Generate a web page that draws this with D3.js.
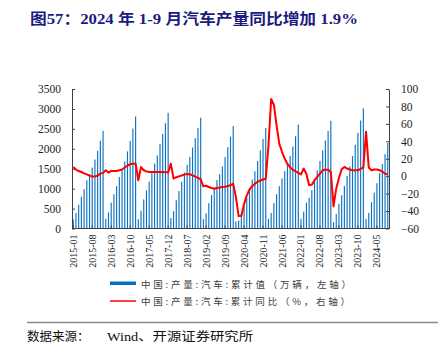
<!DOCTYPE html>
<html><head><meta charset="utf-8">
<script src="https://cdn.jsdelivr.net/npm/d3@7/dist/d3.min.js"></script>
<style>body{margin:0;background:#fff}svg{display:block}</style>
</head><body>
<svg id="c" width="447" height="360"></svg>
<script>
// ---- data (cumulative auto production, 万辆; cumulative YoY %) ----
const years = [2015,2016,2017,2018,2019,2020,2021,2022,2023,2024];
const prod2015 = [227, 388, 597, 796, 988, 1210, 1361, 1528, 1731, 1951, 2203, 2450];
const prod2016 = [243, 404, 649, 858, 1066, 1289, 1474, 1681, 1935, 2196, 2507, 2812];
const prod2017 = [231, 445, 729, 958, 1174, 1424, 1626, 1835, 2115, 2372, 2642, 2902];
const prod2018 = [264, 433, 709, 942, 1170, 1406, 1595, 1795, 2031, 2266, 2518, 2781];
const prod2019 = [233, 376, 635, 839, 1030, 1213, 1363, 1553, 1791, 2038, 2301, 2572];
const prod2020 = [177, 204, 347, 557, 776, 1011, 1230, 1436, 1693, 1961, 2247, 2523];
const prod2021 = [239, 388, 635, 858, 1063, 1257, 1442, 1615, 1824, 2057, 2314, 2608];
const prod2022 = [242, 423, 648, 769, 962, 1212, 1457, 1696, 1963, 2210, 2448, 2702];
const prod2023 = [159, 362, 621, 834, 1067, 1318, 1559, 1815, 2100, 2401, 2711, 3016];
const prod2024 = [241, 392, 660, 899, 1136, 1389, 1617, 1866, 2147];

const yoy2015 = [10.6, 7.6, 5.9, 4.8, 3.3, 2.1, 0.6, -0.4, -0.4, 0.6, 2.9, 3.8];
const yoy2016 = [6.8, 4.1, 6.0, 6.0, 6.0, 6.8, 7.6, 9.9, 12.2, 13.7, 14.4, 14.4];
const yoy2017 = [-4.7, 10.5, 6.8, 5.5, 4.8, 4.8, 4.8, 4.8, 4.8, 4.8, 4.6, 4.4];
const yoy2018 = [14.4, -2.8, -1.2, -0.2, 0.8, 1.8, 2.5, 2.2, 1.0, -0.5, -2.0, -3.5];
const yoy2019 = [-11.7, -11.0, -12.4, -13.6, -14.4, -13.6, -13.0, -12.4, -12.0, -11.3, -10.5, -8.6];
const yoy2020 = [-24.0, -45.8, -45.3, -32.0, -22.0, -15.5, -11.5, -8.6, -6.5, -4.9, -3.8, -3.0];
const yoy2021 = [35.0, 88.5, 82.0, 58.0, 37.0, 28.0, 20.0, 14.0, 10.0, 7.5, 5.5, 3.8];
const yoy2022 = [2.0, 8.8, 2.5, -10.5, -9.7, -4.6, -0.9, 3.0, 6.8, 7.6, 7.2, 4.8];
const yoy2023 = [-34.7, -14.0, -2.0, 8.0, 10.6, 8.8, 7.6, 6.8, 6.8, 6.8, 8.4, 9.9];
const yoy2024 = [50.9, 9.9, 6.8, 7.6, 7.6, 6.8, 5.3, 3.0, 1.9];

const tickLabels = ["2015-01","2015-08","2016-03","2016-10","2017-05","2017-12","2018-07",
  "2019-02","2019-09","2020-04","2020-11","2021-06","2022-01","2022-08","2023-03","2023-10","2024-05"];
const leftTicks = [0,500,1000,1500,2000,2500,3000,3500];
const rightTicks = [-60,-40,-20,0,20,40,60,80,100];

const title = "图57：2024 年 1-9 月汽车产量同比增加 1.9%";
const legendProd = "中国:产量:汽车:累计值（万辆，左轴）";
const legendYoy = "中国:产量:汽车:累计同比（%，右轴）";

// ---- build table ----
const prodAll = [prod2015,prod2016,prod2017,prod2018,prod2019,prod2020,prod2021,prod2022,prod2023,prod2024];
const yoyAll = [yoy2015,yoy2016,yoy2017,yoy2018,yoy2019,yoy2020,yoy2021,yoy2022,yoy2023,yoy2024];
const data = [];
years.forEach((y,yi)=>{
  prodAll[yi].forEach((v,mi)=>{
    data.push({label: y + "-" + String(mi+1).padStart(2,"0"), prod: v, yoy: yoyAll[yi][mi]});
  });
});

const svg = d3.select("#c");
svg.append("rect").attr("width",447).attr("height",360).attr("fill","#fff");

const x0 = 72, x1 = 389, yTop = 89, yBot = 228.5;
const x = d3.scaleBand().domain(data.map(d=>d.label)).range([x0,x1]).paddingInner(0.58).paddingOuter(0.25);
const yL = d3.scaleLinear().domain([0,3500]).range([yBot,yTop]);
const yR = d3.scaleLinear().domain([-60,100]).range([yBot,yTop]);

// title
svg.append("text").attr("x",30).attr("y",24)
  .attr("font-family","'Liberation Serif','Noto Sans CJK SC',serif")
  .attr("font-weight","bold").attr("font-size",15).attr("fill","#1b1b80")
  .attr("textLength",328).attr("lengthAdjust","spacingAndGlyphs")
  .text(title);

// bars
svg.append("g").selectAll("rect").data(data).join("rect")
  .attr("x",d=>x(d.label)).attr("width",x.bandwidth())
  .attr("y",d=>yL(d.prod)).attr("height",d=>yBot-yL(d.prod))
  .attr("fill","#0a72c2");

// axes
const axisColor = "#404040";
const gL = svg.append("g").attr("transform",`translate(${x0},0)`)
  .call(d3.axisLeft(yL).tickValues(leftTicks).tickFormat(d3.format("d")).tickSizeInner(-3).tickSizeOuter(0).tickPadding(11));
const gR = svg.append("g").attr("transform",`translate(${x1},0)`)
  .call(d3.axisRight(yR).tickValues(rightTicks).tickFormat(d3.format("d")).tickSizeInner(-3).tickSizeOuter(0).tickPadding(12));
const gX = svg.append("g").attr("transform",`translate(0,${yBot})`)
  .call(d3.axisBottom(x).tickValues(tickLabels).tickSizeInner(-3).tickSizeOuter(0).tickPadding(6));
gX.select(".domain").attr("d",`M${x0},0H${x1}`);
[gL,gR,gX].forEach(g=>{
  g.selectAll("path,line").attr("stroke",axisColor);
  g.selectAll("text").attr("font-family","'Liberation Serif','Times New Roman',serif")
    .attr("fill","#222");
});
gL.selectAll("text").attr("font-size",11.5);
gR.selectAll("text").attr("font-size",11.5);
gX.selectAll("text").attr("font-size",10)
  .attr("text-anchor","end").attr("dy","0.35em")
  .attr("transform","rotate(-90)").attr("x",-6).attr("y",0);

// line
const line = d3.line().x(d=>x(d.label)+x.bandwidth()/2).y(d=>yR(d.yoy));
svg.append("path").datum(data).attr("d",line)
  .attr("fill","none").attr("stroke","#FF0000").attr("stroke-width",2).attr("stroke-linejoin","round");

// legend
const lg = svg.append("g").attr("font-family","'Noto Sans CJK SC',sans-serif").attr("font-size",9.5).attr("fill","#404040");
lg.append("rect").attr("x",110).attr("y",281.5).attr("width",26).attr("height",3.5).attr("fill","#0070C0");
lg.append("text").attr("x",141).attr("y",283.5).attr("dominant-baseline","central")
  .attr("textLength",210).attr("lengthAdjust","spacing").text(legendProd);
lg.append("line").attr("x1",110).attr("x2",136).attr("y1",301).attr("y2",301).attr("stroke","#FF0000").attr("stroke-width",1.5);
lg.append("text").attr("x",141).attr("y",301).attr("dominant-baseline","central")
  .attr("textLength",209).attr("lengthAdjust","spacing").text(legendYoy);

// separator + source
svg.append("line").attr("x1",27).attr("x2",438).attr("y1",322.5).attr("y2",322.5).attr("stroke","#8a8a8a").attr("stroke-width",1.3);
const src = svg.append("g").attr("font-family","'Noto Sans CJK SC',sans-serif").attr("font-size",12.5).attr("fill","#111");
src.append("text").attr("x",27).attr("y",341).text("数据来源：");
src.append("text").attr("x",107).attr("y",341).attr("font-family","'Liberation Serif','Noto Sans CJK SC',serif")
  .attr("textLength",146).attr("lengthAdjust","spacingAndGlyphs").text("Wind、开源证券研究所");
</script>
</body></html>
